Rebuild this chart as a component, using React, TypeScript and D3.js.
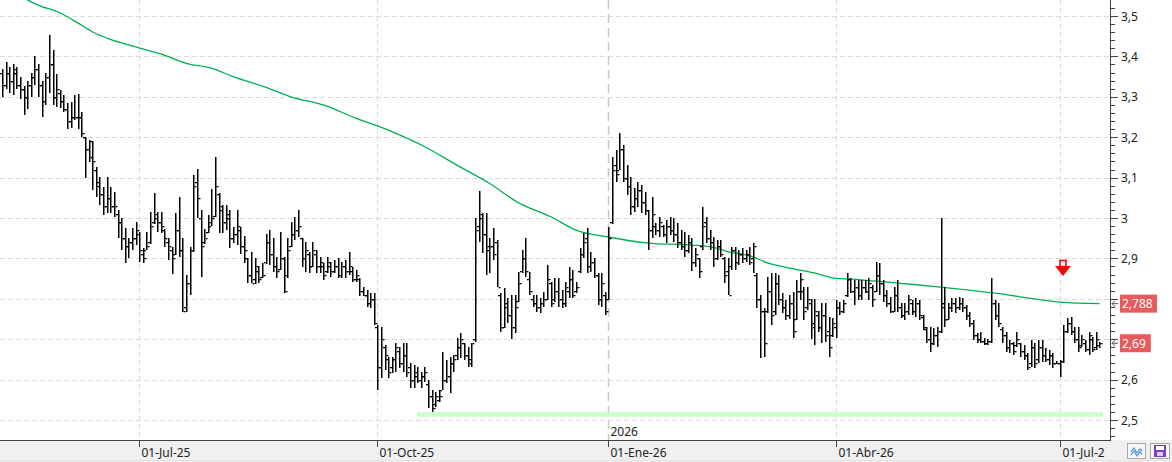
import React from 'react';
import * as d3 from 'd3';

// ---------- data ----------
const firstSession = '2025-05-08';
const sessionCount = 305;
const marketHolidays = ['2025-12-25', '2025-12-26', '2026-01-01', '2026-04-03', '2026-04-06', '2026-05-01'];

const opens = [
  3.36, 3.33, 3.36, 3.34, 3.36, 3.33, 3.32, 3.30, 3.33, 3.35,
  3.37, 3.33, 3.29, 3.35, 3.38, 3.30, 3.31, 3.29, 3.27, 3.24,
  3.25, 3.25, 3.25, 3.20, 3.17, 3.19, 3.12, 3.09, 3.06, 3.03,
  3.05, 3.03, 3.01, 2.99, 2.95, 2.93, 2.94, 2.95, 2.96, 2.91,
  2.92, 2.94, 2.99, 3.00, 2.99, 2.97, 2.94, 2.92, 2.91, 2.97,
  2.92, 2.78, 2.84, 2.92, 3.09, 3.00, 2.94, 2.965, 2.98, 3.005,
  3.06, 3.02, 2.99, 3.00, 2.95, 2.96, 2.97, 2.93, 2.90, 2.86,
  2.85, 2.87, 2.855, 2.89, 2.94, 2.91, 2.88, 2.875, 2.90, 2.86,
  2.93, 2.96, 2.97, 2.95, 2.90, 2.91, 2.88, 2.91, 2.88, 2.88,
  2.87, 2.88, 2.87, 2.88, 2.86, 2.88, 2.87, 2.87, 2.85, 2.85,
  2.82, 2.81, 2.79, 2.80, 2.73, 2.63, 2.68, 2.65, 2.63, 2.65,
  2.67, 2.64, 2.66, 2.63, 2.60, 2.61, 2.60, 2.61, 2.59, 2.56,
  2.54, 2.55, 2.575, 2.60, 2.61, 2.64, 2.66, 2.68, 2.69, 2.66,
  2.65, 2.70, 2.98, 3.00, 2.96, 2.92, 2.93, 2.94, 2.81, 2.73,
  2.78, 2.76, 2.73, 2.795, 2.87, 2.90, 2.85, 2.80, 2.79, 2.78,
  2.79, 2.80, 2.84, 2.80, 2.82, 2.80, 2.79, 2.82, 2.85, 2.82,
  2.87, 2.91, 2.95, 2.88, 2.89, 2.86, 2.80, 2.81, 2.80, 2.99,
  3.13, 3.12, 3.17, 3.10, 3.08, 3.03, 3.05, 3.07, 3.04, 3.02,
  2.97, 2.98, 2.97, 2.98, 2.96, 2.98, 2.97, 2.96, 2.94, 2.93,
  2.92, 2.94, 2.89, 2.90, 2.93, 2.99, 2.95, 2.94, 2.90, 2.93,
  2.90, 2.87, 2.88, 2.92, 2.89, 2.91, 2.90, 2.91, 2.90, 2.86,
  2.80, 2.77, 2.77, 2.82, 2.77, 2.84, 2.80, 2.78, 2.76, 2.79,
  2.75, 2.82, 2.82, 2.78, 2.79, 2.74, 2.76, 2.73, 2.76, 2.72,
  2.71, 2.73, 2.78, 2.77, 2.81, 2.85, 2.82, 2.83, 2.81, 2.83,
  2.82, 2.83, 2.82, 2.86, 2.84, 2.81, 2.79, 2.77, 2.81, 2.78,
  2.76, 2.77, 2.79, 2.77, 2.79, 2.755, 2.725, 2.70, 2.69, 2.71,
  2.72, 2.79, 2.75, 2.78, 2.79, 2.78, 2.79, 2.78, 2.76, 2.74,
  2.71, 2.70, 2.695, 2.69, 2.695, 2.79, 2.76, 2.725, 2.71, 2.68,
  2.69, 2.685, 2.69, 2.67, 2.66, 2.64, 2.68, 2.65, 2.68, 2.66,
  2.65, 2.66, 2.642, 2.64, 2.645, 2.72, 2.74, 2.72, 2.70, 2.685,
  2.69, 2.675, 2.70, 2.68, 2.685,
];

const highs = [
  3.37, 3.385, 3.375, 3.38, 3.375, 3.35, 3.327, 3.34, 3.36, 3.40,
  3.38, 3.34, 3.36, 3.453, 3.416, 3.356, 3.317, 3.305, 3.285, 3.287,
  3.305, 3.307, 3.262, 3.20, 3.193, 3.191, 3.126, 3.102, 3.077, 3.102,
  3.077, 3.064, 3.02, 3.0, 2.975, 2.95, 2.975, 2.99, 2.965, 2.926,
  2.965, 3.015, 3.062, 3.015, 3.015, 2.973, 2.95, 2.928, 3.012, 3.052,
  2.95, 2.859, 2.928, 3.107, 3.121, 3.02, 2.973, 3.007, 3.072, 3.151,
  3.062, 3.032, 3.032, 3.02, 2.978, 3.02, 2.978, 2.955, 2.901, 2.916,
  2.901, 2.881, 2.889, 2.96, 2.97, 2.95, 2.903, 2.965, 2.903, 2.95,
  2.99, 3.002, 3.02, 2.95, 2.941, 2.916, 2.941, 2.921, 2.903, 2.889,
  2.903, 2.891, 2.896, 2.901, 2.891, 2.896, 2.916, 2.879, 2.871, 2.852,
  2.829, 2.822, 2.814, 2.814, 2.735, 2.73, 2.686, 2.656, 2.656, 2.691,
  2.681, 2.691, 2.691, 2.641, 2.636, 2.631, 2.619, 2.631, 2.599, 2.574,
  2.569, 2.574, 2.668, 2.649, 2.656, 2.661, 2.703, 2.715, 2.691, 2.681,
  2.691, 3.0, 3.067, 3.012, 3.012, 2.95, 2.975, 2.946, 2.814, 2.827,
  2.802, 2.809, 2.809, 2.866, 2.921, 2.95, 2.866, 2.809, 2.809, 2.802,
  2.817, 2.884, 2.842, 2.852, 2.852, 2.822, 2.842, 2.879, 2.871, 2.842,
  2.926, 2.963, 2.975, 2.916, 2.901, 2.864, 2.864, 2.817, 2.978, 3.151,
  3.168, 3.21, 3.181, 3.131, 3.102, 3.074, 3.089, 3.082, 3.064, 3.02,
  3.052, 2.988, 3.002, 2.983, 2.995, 3.002, 3.0, 2.988, 2.97, 2.965,
  2.958, 2.95, 2.926, 2.901, 3.027, 3.002, 2.97, 2.953, 2.946, 2.946,
  2.903, 2.901, 2.928, 2.928, 2.921, 2.926, 2.921, 2.928, 2.938, 2.864,
  2.809, 2.777, 2.854, 2.864, 2.864, 2.859, 2.814, 2.797, 2.809, 2.817,
  2.847, 2.864, 2.829, 2.829, 2.80, 2.80, 2.77, 2.79, 2.79, 2.755,
  2.753, 2.797, 2.792, 2.797, 2.864, 2.852, 2.847, 2.847, 2.847, 2.847,
  2.852, 2.834, 2.891, 2.889, 2.847, 2.822, 2.805, 2.829, 2.847, 2.79,
  2.79, 2.809, 2.797, 2.802, 2.797, 2.76, 2.73, 2.73, 2.728, 2.73,
  3.0, 2.829, 2.79, 2.802, 2.802, 2.805, 2.802, 2.785, 2.767, 2.748,
  2.715, 2.718, 2.703, 2.701, 2.852, 2.797, 2.79, 2.73, 2.718, 2.698,
  2.693, 2.718, 2.691, 2.686, 2.666, 2.698, 2.691, 2.698, 2.698, 2.678,
  2.673, 2.666, 2.646, 2.649, 2.735, 2.753, 2.755, 2.73, 2.73, 2.71,
  2.698, 2.718, 2.705, 2.718, 2.693,
];

const lows = [
  3.30, 3.32, 3.31, 3.305, 3.32, 3.295, 3.255, 3.27, 3.30, 3.33,
  3.30, 3.25, 3.28, 3.31, 3.28, 3.275, 3.272, 3.262, 3.22, 3.223,
  3.243, 3.22, 3.201, 3.10, 3.139, 3.069, 3.052, 3.032, 3.007, 3.012,
  3.012, 3.002, 2.95, 2.921, 2.889, 2.90, 2.921, 2.933, 2.891, 2.889,
  2.921, 2.936, 2.985, 2.965, 2.963, 2.928, 2.896, 2.861, 2.908, 2.903,
  2.767, 2.767, 2.809, 2.916, 3.0, 2.854, 2.936, 2.963, 2.98, 3.002,
  2.963, 2.963, 2.97, 2.926, 2.938, 2.933, 2.911, 2.889, 2.839, 2.839,
  2.837, 2.839, 2.852, 2.886, 2.884, 2.866, 2.852, 2.871, 2.814, 2.852,
  2.928, 2.946, 2.953, 2.879, 2.866, 2.864, 2.879, 2.864, 2.864, 2.847,
  2.864, 2.854, 2.864, 2.852, 2.852, 2.852, 2.859, 2.842, 2.842, 2.807,
  2.807, 2.78, 2.777, 2.735, 2.574, 2.604, 2.624, 2.604, 2.616, 2.619,
  2.629, 2.619, 2.607, 2.579, 2.579, 2.592, 2.579, 2.594, 2.53, 2.52,
  2.532, 2.545, 2.574, 2.592, 2.567, 2.619, 2.649, 2.654, 2.649, 2.631,
  2.631, 2.693, 2.941, 2.913, 2.859, 2.864, 2.896, 2.829, 2.718, 2.728,
  2.74, 2.701, 2.715, 2.792, 2.864, 2.854, 2.809, 2.78, 2.767, 2.765,
  2.78, 2.797, 2.78, 2.792, 2.78, 2.777, 2.78, 2.802, 2.802, 2.814,
  2.864, 2.901, 2.864, 2.866, 2.852, 2.785, 2.78, 2.76, 2.797, 2.985,
  3.089, 3.119, 3.089, 3.057, 3.007, 3.015, 3.027, 3.012, 3.007, 2.921,
  2.95, 2.958, 2.953, 2.953, 2.938, 2.958, 2.941, 2.926, 2.921, 2.903,
  2.913, 2.869, 2.879, 2.852, 2.921, 2.938, 2.921, 2.879, 2.896, 2.903,
  2.839, 2.809, 2.871, 2.871, 2.884, 2.889, 2.891, 2.884, 2.864, 2.777,
  2.654, 2.656, 2.765, 2.735, 2.76, 2.785, 2.765, 2.748, 2.75, 2.703,
  2.748, 2.797, 2.748, 2.772, 2.701, 2.686, 2.718, 2.691, 2.693, 2.656,
  2.705, 2.703, 2.76, 2.765, 2.805, 2.814, 2.785, 2.797, 2.797, 2.814,
  2.797, 2.78, 2.817, 2.809, 2.792, 2.78, 2.765, 2.767, 2.767, 2.753,
  2.748, 2.76, 2.76, 2.755, 2.748, 2.723, 2.691, 2.668, 2.686, 2.681,
  2.715, 2.73, 2.748, 2.767, 2.765, 2.772, 2.767, 2.748, 2.73, 2.698,
  2.691, 2.691, 2.686, 2.686, 2.691, 2.748, 2.73, 2.691, 2.668, 2.666,
  2.661, 2.681, 2.656, 2.649, 2.624, 2.631, 2.629, 2.641, 2.644, 2.644,
  2.636, 2.629, 2.638, 2.607, 2.641, 2.715, 2.71, 2.691, 2.668, 2.681,
  2.668, 2.661, 2.668, 2.673, 2.678,
];

const closes = [
  3.33, 3.36, 3.34, 3.37, 3.33, 3.32, 3.30, 3.33, 3.35, 3.37,
  3.33, 3.29, 3.35, 3.38, 3.30, 3.32, 3.29, 3.27, 3.24, 3.25,
  3.25, 3.25, 3.21, 3.17, 3.15, 3.14, 3.08, 3.06, 3.03, 3.05,
  3.03, 3.03, 2.99, 2.95, 2.93, 2.94, 2.95, 2.97, 2.92, 2.90,
  2.93, 2.98, 3.01, 2.99, 2.98, 2.95, 2.93, 2.90, 2.97, 2.92,
  2.77, 2.84, 2.92, 3.08, 3.05, 2.93, 2.95, 2.99, 3.00, 3.08,
  3.03, 2.99, 3.01, 2.95, 2.96, 2.98, 2.93, 2.92, 2.86, 2.84,
  2.88, 2.85, 2.86, 2.94, 2.91, 2.88, 2.87, 2.90, 2.82, 2.92,
  2.96, 2.97, 2.98, 2.90, 2.92, 2.88, 2.92, 2.88, 2.89, 2.86,
  2.89, 2.87, 2.88, 2.86, 2.88, 2.87, 2.88, 2.85, 2.86, 2.82,
  2.81, 2.79, 2.80, 2.74, 2.63, 2.70, 2.66, 2.62, 2.65, 2.68,
  2.64, 2.66, 2.62, 2.60, 2.62, 2.60, 2.61, 2.62, 2.56, 2.53,
  2.56, 2.56, 2.60, 2.61, 2.64, 2.65, 2.68, 2.70, 2.66, 2.64,
  2.69, 2.97, 3.01, 2.96, 2.93, 2.93, 2.91, 2.83, 2.73, 2.79,
  2.76, 2.73, 2.78, 2.84, 2.90, 2.87, 2.82, 2.79, 2.78, 2.79,
  2.80, 2.85, 2.79, 2.82, 2.80, 2.79, 2.83, 2.85, 2.81, 2.83,
  2.91, 2.94, 2.88, 2.89, 2.86, 2.80, 2.84, 2.77, 2.95, 3.12,
  3.11, 3.17, 3.10, 3.08, 3.03, 3.05, 3.07, 3.04, 3.02, 2.97,
  3.01, 2.97, 2.99, 2.96, 2.98, 2.97, 2.96, 2.94, 2.93, 2.92,
  2.94, 2.89, 2.91, 2.87, 2.98, 2.95, 2.94, 2.90, 2.93, 2.91,
  2.86, 2.81, 2.92, 2.89, 2.91, 2.90, 2.91, 2.89, 2.93, 2.80,
  2.77, 2.69, 2.82, 2.76, 2.84, 2.80, 2.78, 2.76, 2.79, 2.72,
  2.82, 2.85, 2.77, 2.80, 2.73, 2.77, 2.73, 2.76, 2.71, 2.68,
  2.74, 2.78, 2.77, 2.79, 2.85, 2.82, 2.83, 2.81, 2.83, 2.82,
  2.84, 2.80, 2.86, 2.84, 2.81, 2.79, 2.77, 2.81, 2.78, 2.76,
  2.77, 2.80, 2.77, 2.79, 2.76, 2.73, 2.70, 2.69, 2.71, 2.72,
  2.78, 2.75, 2.78, 2.79, 2.78, 2.79, 2.78, 2.76, 2.74, 2.71,
  2.70, 2.695, 2.69, 2.695, 2.79, 2.76, 2.74, 2.71, 2.68, 2.69,
  2.67, 2.70, 2.67, 2.66, 2.63, 2.68, 2.64, 2.68, 2.66, 2.65,
  2.66, 2.64, 2.641, 2.645, 2.72, 2.74, 2.72, 2.70, 2.68, 2.70,
  2.675, 2.71, 2.675, 2.70, 2.69,
];

// moving average read at these sessions (index into the session list)
const maSessions = [7, 10, 16, 21, 25, 30, 36, 44, 51, 58, 64, 73, 80, 89, 98, 108, 117, 126, 135, 143, 152, 159, 168, 179, 191, 196, 201, 208, 212, 216, 225, 230, 238, 248, 260, 275, 293, 304];
const maValues = [3.54, 3.527, 3.508, 3.483, 3.461, 3.442, 3.426, 3.406, 3.383, 3.371, 3.35, 3.324, 3.3, 3.28, 3.247, 3.214, 3.177, 3.131, 3.086, 3.038, 3.003, 2.97, 2.953, 2.938, 2.933, 2.929, 2.917, 2.904, 2.889, 2.88, 2.864, 2.852, 2.847, 2.839, 2.829, 2.814, 2.792, 2.788];

const supportLevel = 2.514;
const supportFromSession = 115;

const xTickDates = ['2025-07-01', '2025-10-01', '2026-01-02', '2026-04-01', '2026-07-01'];
const xTickLabels = ['01-Jul-25', '01-Oct-25', '01-Ene-26', '01-Abr-26', '01-Jul-26'];
const yearMarkDate = '2026-01-02';
const yearMarkLabel = '2026';

const signalDate = '2026-07-02';
const signalPrice = 2.895;

const maLastValue = 2.788;
const lastClose = 2.69;

// ---------- helpers ----------
function buildSessions(): string[] {
  const out: string[] = [];
  const d = new Date(firstSession + 'T12:00:00Z');
  while (out.length < sessionCount) {
    const dow = d.getUTCDay();
    const iso = d.toISOString().slice(0, 10);
    if (dow !== 0 && dow !== 6 && !marketHolidays.includes(iso)) out.push(iso);
    d.setUTCDate(d.getUTCDate() + 1);
  }
  return out;
}

const W = 1172;
const H = 462;
const plotRight = 1110;
const plotBottom = 440;
const FONT = '"Noto Sans", "Open Sans", sans-serif';

export default function App() {
  const sessions = React.useMemo(buildSessions, []);
  const x = d3.scalePoint<string>().domain(sessions).range([2, 1099.4]);
  const step = x.step();
  const y = d3.scaleLinear().domain([2.5, 3.5]).range([420, 16]);
  const axisScale = y.copy().domain([y.invert(plotBottom), y.invert(0)]);
  const majorTicks = axisScale.ticks(10);
  const minorTicks = axisScale.ticks(50).filter((t) => Math.abs(t * 10 - Math.round(t * 10)) > 1e-6);
  const locale = d3.formatLocale({ decimal: ',', thousands: '.', grouping: [3], currency: ['', ''] });
  const fmt = locale.format('.3~f');

  const maLine = d3
    .line<number>()
    .x((_, i) => x(sessions[maSessions[i]]) as number)
    .y((v) => y(v))
    .curve(d3.curveMonotoneX);

  const bars = sessions.map((s, i) => ({ s, o: opens[i], h: highs[i], l: lows[i], c: closes[i] }));

  const sx0 = x(sessions[supportFromSession]) as number;
  const sx1 = (x(sessions[sessions.length - 1]) as number) + step;

  const ax = Math.round(x(signalDate) as number);
  const ay = Math.round(y(signalPrice));

  const priceTags = [maLastValue, lastClose];
  const tagYs = priceTags.map((v) => y(v));
  const visibleMajor = majorTicks.filter((t) => tagYs.every((ty) => Math.abs(y(t) - ty) > 11));

  return (
    <svg
      width={W}
      height={H}
      style={{ position: 'absolute', left: 0, top: 0, background: '#fff' }}
      fontFamily={FONT}
    >
      <defs>
        <clipPath id="plot">
          <rect x={0} y={0} width={plotRight} height={plotBottom} />
        </clipPath>
        <clipPath id="xlabels">
          <rect x={0} y={plotBottom} width={1105} height={H - plotBottom} />
        </clipPath>
      </defs>
      <rect x={0} y={0} width={W} height={H} fill="#fff" />

      <g clipPath="url(#plot)">
        {majorTicks.map((t) => (
          <line
            key={'hg' + t}
            x1={0}
            x2={plotRight}
            y1={Math.round(y(t)) + 0.5}
            y2={Math.round(y(t)) + 0.5}
            stroke="#dcdcdc"
            strokeDasharray="5,3"
          />
        ))}
        {xTickDates.map((d) =>
          d === yearMarkDate ? null : (
            <line
              key={'vg' + d}
              x1={Math.round(x(d) as number) + 0.5}
              x2={Math.round(x(d) as number) + 0.5}
              y1={0}
              y2={plotBottom}
              stroke="#dcdcdc"
              strokeDasharray="5,3"
            />
          )
        )}
        <line
          x1={Math.round(x(yearMarkDate) as number) + 0.5}
          x2={Math.round(x(yearMarkDate) as number) + 0.5}
          y1={0}
          y2={plotBottom}
          stroke="#c8c8c8"
          strokeWidth={1.5}
          strokeDasharray="9,5"
        />
        <text x={(x(yearMarkDate) as number) + 2} y={436} fontSize={12} fill="#222">
          {yearMarkLabel}
        </text>

        {/* support zone */}
        <rect x={sx0} y={y(supportLevel) - 2.5} width={sx1 - sx0} height={5} fill="#ccffcc" />

        {/* moving average */}
        <path d={maLine(maValues) || ''} fill="none" stroke="#00b050" strokeWidth={1.3} />

        {/* OHLC bars */}
        <g fill="#000">
          {bars.map((b) => {
            const cx = Math.round(x(b.s) as number);
            const yh = Math.round(y(b.h));
            const yl = Math.round(y(b.l));
            const yo = Math.round(y(b.o));
            const yc = Math.round(y(b.c));
            return (
              <g key={b.s}>
                <rect x={cx} y={yh} width={1.5} height={Math.max(1, yl - yh)} />
                <rect x={cx - 2} y={yo} width={2} height={1.3} />
                <rect x={cx + 1.5} y={yc} width={2} height={1.3} />
              </g>
            );
          })}
        </g>

        {/* signal arrow */}
        <g>
          <rect x={ax - 3} y={ay + 0.5} width={6} height={6} fill="#fff" stroke="#ff0000" strokeWidth={1.6} />
          <path d={`M${ax - 8},${ay + 6} L${ax + 8},${ay + 6} L${ax},${ay + 16} Z`} fill="#ff0000" />
        </g>
      </g>

      {/* bottom axis band */}
      <rect x={0} y={plotBottom} width={W} height={H - plotBottom} fill="#f0f0f0" />
      <line x1={0} x2={W} y1={H - 1.5} y2={H - 1.5} stroke="#e2e2e2" />
      <line x1={0} x2={plotRight + 1} y1={plotBottom + 0.5} y2={plotBottom + 0.5} stroke="#404040" />
      <g clipPath="url(#xlabels)">
        {xTickDates.map((d, i) => {
          const tx = Math.round(x(d) as number) + 0.5;
          return (
            <g key={'xt' + d}>
              <line x1={tx} x2={tx} y1={plotBottom} y2={plotBottom + 7} stroke="#404040" />
              <text x={tx + 2} y={457} fontSize={12} fill="#222">
                {xTickLabels[i]}
              </text>
            </g>
          );
        })}
      </g>

      {/* right axis */}
      <line x1={plotRight + 0.5} x2={plotRight + 0.5} y1={0} y2={plotBottom} stroke="#404040" />
      {minorTicks.map((t) => (
        <line
          key={'mt' + t}
          x1={plotRight}
          x2={plotRight + 5}
          y1={Math.round(y(t)) + 0.5}
          y2={Math.round(y(t)) + 0.5}
          stroke="#404040"
        />
      ))}
      {majorTicks.map((t) => (
        <line
          key={'yt' + t}
          x1={plotRight}
          x2={plotRight + 8}
          y1={Math.round(y(t)) + 0.5}
          y2={Math.round(y(t)) + 0.5}
          stroke="#404040"
        />
      ))}
      {visibleMajor.map((t) => (
        <text key={'yl' + t} x={plotRight + 11} y={y(t) + 4.5} fontSize={12} fill="#222">
          {fmt(t)}
        </text>
      ))}

      {/* last value tags */}
      {priceTags.map((v, i) => {
        const label = fmt(v);
        const ty = tagYs[i];
        const w = 6 + label.length * 6.2;
        return (
          <g key={'tag' + v}>
            <rect x={plotRight + 10} y={ty - 9} width={w} height={18} fill="#e85a5c" />
            <path
              d={`M${plotRight + 8},${ty} L${plotRight + 2},${ty} M${plotRight + 5},${ty - 3} L${plotRight + 2},${ty} L${plotRight + 5},${ty + 3}`}
              fill="none"
              stroke="#555"
            />
            <text x={plotRight + 12} y={ty + 4.5} fontSize={12} fill="#fff">
              {label}
            </text>
          </g>
        );
      })}

      {/* toolbar buttons */}
      <g>
        <rect x={1127.5} y={443.5} width={18} height={15} fill="#f7f7f7" stroke="#a8a8a8" />
        <path d="M1131,452 L1134,448 L1137,453 L1140,449 L1142,451" fill="none" stroke="#4f8fd6" strokeWidth={1.2} />
        <path d="M1131,455 L1134,451 L1137,456 L1140,452 L1142,454" fill="none" stroke="#4f8fd6" strokeWidth={1.2} />
        <rect x={1150.5} y={443.5} width={19} height={15} fill="#f7f7f7" stroke="#a8a8a8" />
        <rect x={1154} y={445} width={12} height={12} fill="#7b3fb8" />
        <rect x={1156} y={446} width={8} height={4} fill="#fff" />
        <rect x={1157} y={452} width={6} height={4} fill="#d8c8ec" />
      </g>
    </svg>
  );
}
